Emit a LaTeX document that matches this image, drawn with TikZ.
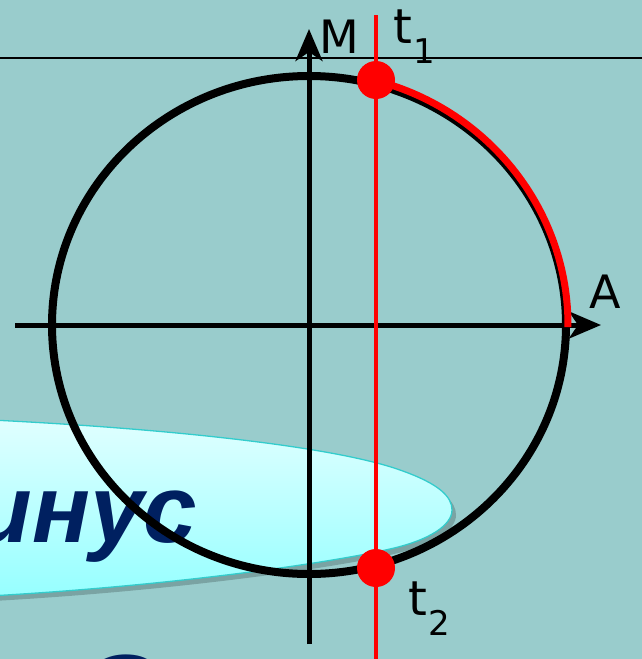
\documentclass[tikz,border=0pt]{standalone}
\usepackage{fontspec}
\setmainfont{DejaVu Sans}
\newfontfamily\lsans{Liberation Sans}
\usetikzlibrary{arrows.meta}
\definecolor{bgc}{RGB}{153,204,204}
\definecolor{navy}{RGB}{0,32,96}
\definecolor{cyanA}{RGB}{224,255,255}
\definecolor{cyanB}{RGB}{150,255,255}
\definecolor{cyanEdge}{RGB}{51,204,204}
\definecolor{redc}{RGB}{255,0,0}
\tikzset{
  axisline/.style={line width=5pt,-{Stealth[length=32pt,width=27pt,inset=9pt]}},
  circline/.style={line width=8pt},
  redline/.style={line width=4.5pt,redc},
  redarc/.style={line width=7pt,redc},
  reddot/.style={circle,fill=redc,minimum size=38pt,inner sep=0pt},
  lbl/.style={inner sep=0pt,anchor=base west,font=\fontsize{46}{46}\selectfont},
  thinline/.style={line width=2.5pt}
}
\newcommand{\sublbl}[2]{\fontsize{48}{48}\selectfont #1\kern1pt\raisebox{-20pt}{\fontsize{34}{34}\selectfont #2}}
\newcommand{\calloutpath}{(-30,419) .. controls (150,427) and (330,445) .. (400,470) .. controls (440,484) and (452,497) .. (452,510) .. controls (452,525) and (430,540) .. (390,549) .. controls (320,565) and (150,588) .. (-30,597) -- cycle}
\begin{document}
\begin{tikzpicture}[x=1pt,y=-1pt]
\useasboundingbox (0,0) rectangle (642,659);
\fill[bgc] (0,0) rectangle (642,659);
\clip (0,0) rectangle (642,659);
% callout shadow and body
\fill[black,opacity=0.2,shift={(4,5)}] \calloutpath;
\shadedraw[top color=cyanA,bottom color=cyanB,draw=cyanEdge,line width=1.3pt] \calloutpath;
\node[inner sep=0pt,anchor=base east,text=navy,font=\lsans\fontsize{96}{96}\selectfont\bfseries\itshape] (word) at (197,542) {инус};
\node[inner sep=0pt,anchor=base west,text=navy,font=\lsans\fontsize{150}{150}\selectfont\bfseries\itshape] (word2) at (-80,735) {с\hspace{29pt} о};
% top thin line
\coordinate (hl) at (0,58); \coordinate (hr) at (642,58);
\draw[thinline] (hl) -- (hr);
% axes and circle
\coordinate (O) at (309,325);
\coordinate (xl) at (15,325); \coordinate (xr) at (601,325);
\coordinate (yb) at (309,644); \coordinate (yt) at (309,29);
\draw[circline] (O) ellipse[x radius=257, y radius=249];
\draw[axisline] (xl) -- (xr);
\draw[axisline] (yb) -- (yt);
% red
\coordinate (rt) at (376,15); \coordinate (rb) at (376,659);
\draw[redline] (rt) -- (rb);
\draw[redarc] ([shift={(O)}] -74.8:259 and 253) arc[start angle=-74.8, end angle=0.5, x radius=259, y radius=253];
\node[reddot] (d1) at (376,80) {};
\node[reddot] (d2) at (376,568) {};
% labels
\node[lbl] (lM) at (319,53) {M};
\node[lbl] (lA) at (589,308) {A};
\node[inner sep=0pt,anchor=base west] (lt1) at (393,43) {\sublbl{t}{1}};
\node[inner sep=0pt,anchor=base west] (lt2) at (408,615) {\sublbl{t}{2}};
\end{tikzpicture}
\end{document}
